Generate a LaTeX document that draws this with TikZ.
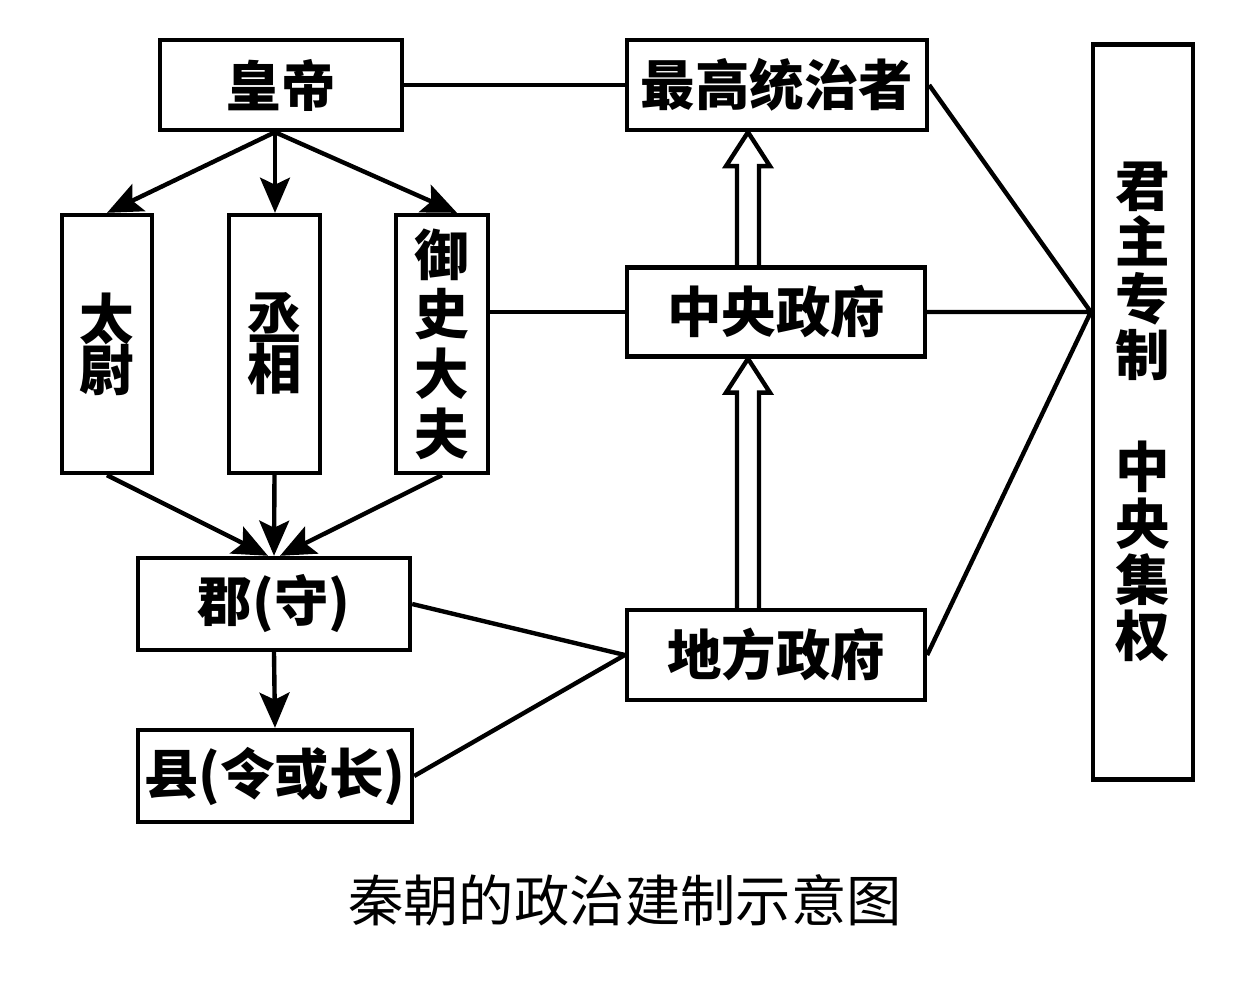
\documentclass[tikz,border=0pt]{standalone}
\usepackage{fontspec}
\newfontfamily\cjk{Noto Sans CJK SC}
\usetikzlibrary{arrows.meta,calc}
\tikzset{
  box/.style={draw,line width=2.5pt,inner sep=0pt,align=center,font=\cjk\bfseries\fontsize{31}{32}\selectfont},
  link/.style={line width=2.5pt},
  arr/.style={link,-{Stealth[length=20pt,width=17pt,inset=4pt]}},
}
% hollow upward arrow: #1 foot, #2 tip (same x)
\newcommand\hollowarrow[2]{\draw[link,line join=miter] ($(#1)+(-11,0)$) -- ($(#2)+(-11,34)$) -- ($(#2)+(-22,34)$) -- (#2) -- ($(#2)+(22,34)$) -- ($(#2)+(11,34)$) -- ($(#1)+(11,0)$);}
\begin{document}
\begin{tikzpicture}[x=.02cm,y=-.02cm]
\useasboundingbox (0,0) rectangle (1245,981);
\node[box,minimum width=4.84cm,minimum height=1.8cm] (huangdi) at (281,85) {皇帝};
\node[box,minimum width=6cm,minimum height=1.8cm] (zuigao) at (777,85) {最高统治者};
\node[box,minimum width=1.8cm,minimum height=5.16cm] (taiwei) at (107,344) {太\\[-3pt]尉};
\node[box,minimum width=1.82cm,minimum height=5.16cm] (chengxiang) at (274.5,344) {丞\\[-3pt]相};
\node[box,minimum width=1.84cm,minimum height=5.16cm] (yushi) at (442,344) {御\\[2pt]史\\[2pt]大\\[2pt]夫};
\node[box,minimum width=5.96cm,minimum height=1.78cm] (zhongyang) at (776,312) {中央政府};
\node[box,minimum width=5.44cm,minimum height=1.84cm] (jun) at (274,604) {郡(守)};
\node[box,minimum width=5.96cm,minimum height=1.8cm] (difang) at (776,655) {地方政府};
\node[box,minimum width=5.48cm,minimum height=1.84cm] (xian) at (275,776) {县(令或长)};
\node[box,minimum width=2cm,minimum height=14.7cm] (junzhu) at (1143,412) {君\\主\\专\\制\\[32pt]中\\央\\集\\权};
\node[font=\cjk\fontsize{31.5}{36}\selectfont] (caption) at (625,900) {秦朝的政治建制示意图};
% connectors
\coordinate (hs) at ($(huangdi.south)+(-6,0)$);
\coordinate (jp) at (junzhu.west |- zhongyang.east);
\draw[link] (huangdi.east) -- (zuigao.west);
\draw[arr] (hs) -- (taiwei.north);
\draw[arr] (hs) -- (hs |- chengxiang.north);
\draw[arr] (hs) -- ($(yushi.north)+(15,0)$);
\draw[arr] (taiwei.south) -- ($(jun.north)+(-6,0)$);
\draw[arr] (chengxiang.south) -- (jun.north);
\draw[arr] (yushi.south) -- ($(jun.north)+(6,0)$);
\draw[arr] (jun.south) -- (xian.north);
\draw[link] (yushi.east |- zhongyang.west) -- (zhongyang.west);
\draw[link] (jun.east) -- (difang.west) (xian.east) -- (difang.west);
\draw[link] (zuigao.east) -- (jp) (zhongyang.east) -- (jp) (difang.east) -- (jp);
\coordinate (tip1) at ($(zuigao.south)+(-29,0)$);\coordinate (foot1) at ($(zhongyang.north)+(-28,0)$);
\coordinate (tip2) at ($(zhongyang.south)+(-28,0)$);\coordinate (foot2) at ($(difang.north)+(-28,0)$);
\hollowarrow{foot1}{tip1}
\hollowarrow{foot2}{tip2}
\end{tikzpicture}
\end{document}
